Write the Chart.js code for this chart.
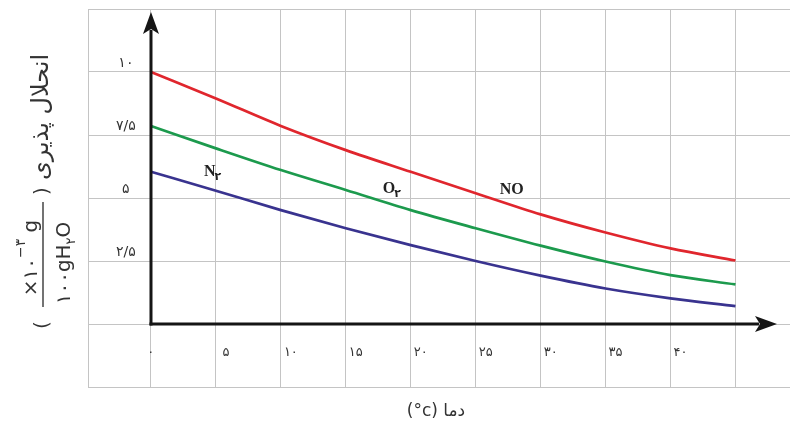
<!DOCTYPE html>
<html><head><meta charset="utf-8">
<script src="https://cdn.jsdelivr.net/npm/chart.js@4"></script>
<style>html,body{margin:0;padding:0;background:#fff}canvas{display:block}</style>
</head><body>
<canvas id="c" width="791" height="428"></canvas>
<script>
// ---- data ----
const temperatures = [0, 5, 10, 15, 20, 25, 30, 35, 40, 45];
const solubilityNO = [10, 8.95, 7.86, 6.9, 6.04, 5.19, 4.35, 3.63, 3.0, 2.52];
const solubilityO2 = [7.86, 6.97, 6.11, 5.32, 4.52, 3.80, 3.11, 2.48, 1.94, 1.57];
const solubilityN2 = [6.04, 5.29, 4.52, 3.80, 3.13, 2.5, 1.92, 1.41, 1.02, 0.71];
const seriesNames = ['NO', 'O', 'N'];
const seriesSubscripts = ['', '۲', '۲'];
const xTickValues = [0, 5, 10, 15, 20, 25, 30, 35, 40, 45];
const xTickLabels = ['۰', '۵', '۱۰', '۱۵', '۲۰', '۲۵', '۳۰', '۳۵', '۴۰', ''];
const yTickValues = [-2.5, 0, 2.5, 5, 7.5, 10, 12.5];
const yTickLabels = ['', '', '۲/۵', '۵', '۷/۵', '۱۰', ''];
const xTitle = 'دما (\u200E°c)';
const yTitleMain = 'انحلال پذیری';
const yUnitNumerator = ['×۱۰', '−۳', ' g'];
const yUnitDenominator = ['۱۰۰gH', '۲', 'O'];

const colors = ['#e0262d', '#1c9a4d', '#39338f'];
const toPoints = arr => temperatures.map((t, i) => ({x: t, y: arr[i]}));

const TEXT = '#333';
const SANS = '"DejaVu Sans", sans-serif';

const decor = {
  id: 'decor',
  afterDatasetsDraw(chart) {
    const ctx = chart.ctx;
    const xs = chart.scales.x, ys = chart.scales.y;
    const area = chart.chartArea;
    const ox = xs.getPixelForValue(0), oy = ys.getPixelForValue(0);
    ctx.save();
    ctx.strokeStyle = '#151515'; ctx.fillStyle = '#151515';
    ctx.lineWidth = 3;
    // y axis arrow
    const tipY = area.top + 3;
    ctx.beginPath(); ctx.moveTo(ox, oy + 1.5); ctx.lineTo(ox, tipY + 18); ctx.stroke();
    ctx.beginPath(); ctx.moveTo(ox, tipY); ctx.lineTo(ox - 8, tipY + 22); ctx.lineTo(ox, tipY + 17); ctx.lineTo(ox + 8, tipY + 22); ctx.closePath(); ctx.fill();
    // x axis arrow
    const tipX = 777;
    ctx.beginPath(); ctx.moveTo(ox - 1.5, oy); ctx.lineTo(tipX - 18, oy); ctx.stroke();
    ctx.beginPath(); ctx.moveTo(tipX, oy); ctx.lineTo(tipX - 22, oy - 8); ctx.lineTo(tipX - 17, oy); ctx.lineTo(tipX - 22, oy + 8); ctx.closePath(); ctx.fill();

    // series labels
    const anchors = [{x: 26.85, y: 5.16}, {x: 17.85, y: 5.2}, {x: 4.08, y: 5.87}];
    ctx.fillStyle = '#222';
    seriesNames.forEach((name, i) => {
      const px = xs.getPixelForValue(anchors[i].x), py = ys.getPixelForValue(anchors[i].y);
      ctx.font = 'bold 16px "Liberation Serif", serif';
      ctx.textAlign = 'left'; ctx.textBaseline = 'alphabetic';
      ctx.fillText(name, px, py);
      const w = ctx.measureText(name).width;
      if (seriesSubscripts[i]) {
        ctx.font = 'bold 11px ' + SANS;
        ctx.fillText(seriesSubscripts[i], px + w - 1, py + 4);
      }
    });

    // x title
    ctx.fillStyle = TEXT;
    ctx.font = '17px ' + SANS;
    ctx.textAlign = 'center'; ctx.direction = 'rtl';
    ctx.fillText(xTitle, 436, 416);
    ctx.direction = 'ltr';

    // y title (rotated)
    function rotText(text, cx, cy, font, dir) {
      ctx.save(); ctx.translate(cx, cy); ctx.rotate(-Math.PI / 2);
      ctx.font = font; ctx.textAlign = 'center'; ctx.direction = dir || 'ltr';
      ctx.fillText(text, 0, 0); ctx.restore();
    }
    function rotRuns(runs, cx, cy) {
      ctx.save(); ctx.translate(cx, cy); ctx.rotate(-Math.PI / 2);
      ctx.textAlign = 'left'; ctx.direction = 'ltr';
      let total = 0;
      runs.forEach(r => { ctx.font = r.font; r.w = ctx.measureText(r.text).width; total += r.w; });
      let u = -total / 2;
      runs.forEach(r => { ctx.font = r.font; ctx.fillText(r.text, u, -r.rise); u += r.w; });
      ctx.restore();
    }
    rotText(yTitleMain, 48, 117, '24px ' + SANS, 'rtl');
    rotText('(', 48, 325, '20px ' + SANS);
    rotText(')', 48, 191, '20px ' + SANS);
    rotRuns([
      {text: yUnitNumerator[0], font: '20px ' + SANS, rise: 0},
      {text: yUnitNumerator[1], font: '14px ' + SANS, rise: 12},
      {text: yUnitNumerator[2], font: '20px ' + SANS, rise: 0}
    ], 37, 258);
    rotRuns([
      {text: yUnitDenominator[0], font: '20px ' + SANS, rise: 0},
      {text: yUnitDenominator[1], font: '13px ' + SANS, rise: -5},
      {text: yUnitDenominator[2], font: '20px ' + SANS, rise: 0}
    ], 70, 263);
    ctx.strokeStyle = '#444'; ctx.lineWidth = 1.5;
    ctx.beginPath(); ctx.moveTo(43, 202); ctx.lineTo(43, 307); ctx.stroke();
    ctx.restore();
  }
};

new Chart(document.getElementById('c'), {
  type: 'line',
  data: {
    datasets: [
      {label: 'NO', data: toPoints(solubilityNO), borderColor: colors[0]},
      {label: 'O2', data: toPoints(solubilityO2), borderColor: colors[1]},
      {label: 'N2', data: toPoints(solubilityN2), borderColor: colors[2]}
    ].map(d => Object.assign(d, {borderWidth: 2.7, pointRadius: 0, fill: false, cubicInterpolationMode: 'monotone'}))
  },
  options: {
    responsive: false, animation: false, devicePixelRatio: 1,
    layout: {padding: {left: 0, top: 9, right: 1, bottom: 41}},
    plugins: {legend: {display: false}, tooltip: {enabled: false}},
    scales: {
      x: {
        type: 'linear', min: -4.85, max: 49.2, position: {y: 0},
        afterBuildTicks: s => { s.ticks = [s.min].concat(xTickValues).map(v => ({value: v})); },
        afterFit: s => { s.paddingLeft = 0; s.paddingRight = 0; s.paddingTop = 0; s.paddingBottom = 0; },
        grid: {color: '#c4c4c4', lineWidth: 1, drawTicks: false},
        border: {display: false},
        ticks: {
          autoSkip: false, maxRotation: 0, padding: 21, labelOffset: 10,
          color: TEXT, font: {family: 'DejaVu Sans', size: 13},
          callback: v => { const i = xTickValues.indexOf(v); if (i < 0) return ''; return i === 0 ? xTickLabels[i] + '     ' : xTickLabels[i]; }
        }
      },
      y: {
        type: 'linear', min: -2.5, max: 12.5, position: 'left',
        afterBuildTicks: s => { s.ticks = yTickValues.map(v => ({value: v})); },
        afterFit: s => { s.width = 88; s.paddingTop = 0; s.paddingBottom = 0; s.paddingLeft = 0; s.paddingRight = 0; },
        grid: {color: '#c4c4c4', lineWidth: 1, drawTicks: false},
        border: {display: false},
        ticks: {
          autoSkip: false, mirror: true, crossAlign: 'center', padding: 28, labelOffset: -9,
          color: TEXT, font: {family: 'DejaVu Sans', size: 14},
          callback: v => { const i = yTickValues.indexOf(v); return i < 0 ? '' : yTickLabels[i]; }
        }
      }
    }
  },
  plugins: [decor]
});
</script>
</body></html>
